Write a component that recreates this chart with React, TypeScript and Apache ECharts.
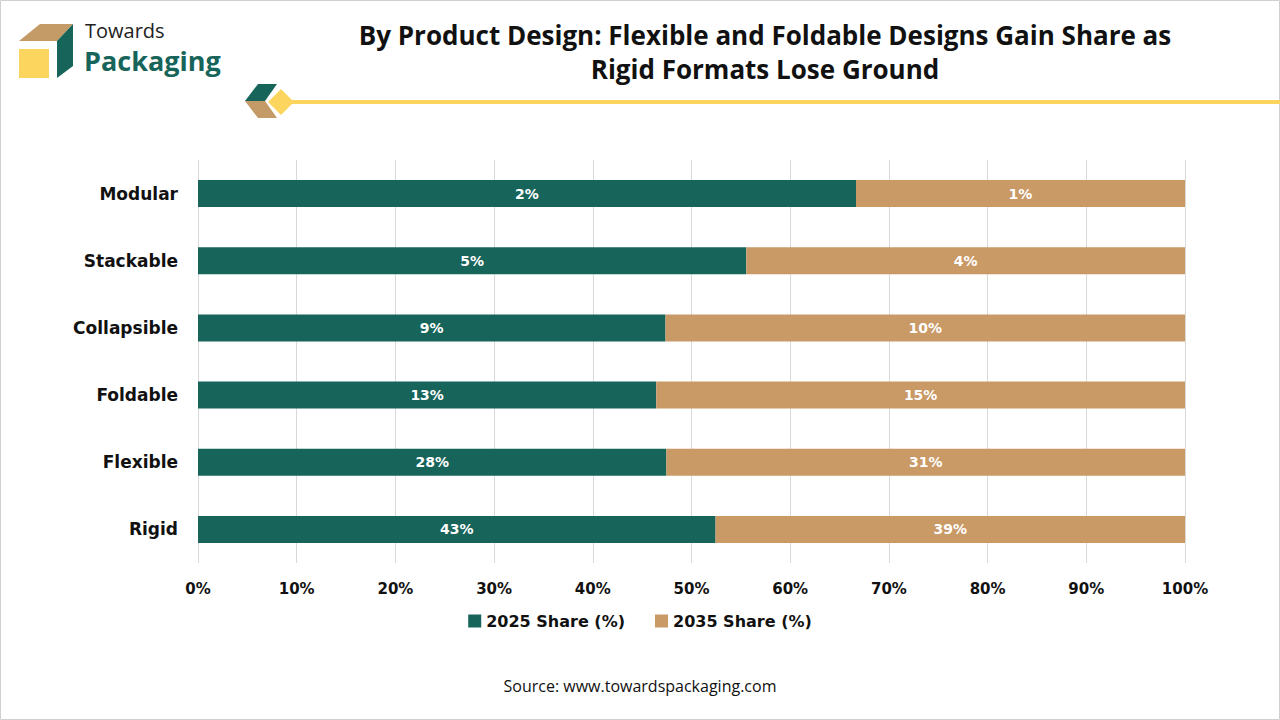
import React, { useEffect, useRef } from "react";
import * as echarts from "echarts";

const categories = ["Modular", "Stackable", "Collapsible", "Foldable", "Flexible", "Rigid"];
const share2025 = [2, 5, 9, 13, 28, 43];
const share2035 = [1, 4, 10, 15, 31, 39];
const xTicks = [0, 10, 20, 30, 40, 50, 60, 70, 80, 90, 100];

const GREEN = "#17645a";
const TAN = "#c99966";
const AXIS_FONT = "'DejaVu Sans', Verdana, sans-serif";

export default function App() {
  const ref = useRef<HTMLDivElement>(null);
  useEffect(() => {
    document.body.style.margin = "0";
    const chart = echarts.init(ref.current!, null, { renderer: "svg" });
    const totals = categories.map((_, i) => share2025[i] + share2035[i]);
    const d25 = share2025.map((v, i) => ({ value: (v / totals[i]) * 100, raw: v }));
    const d35 = share2035.map((v, i) => ({ value: (v / totals[i]) * 100, raw: v }));
    const labelCfg = {
      show: true,
      position: "inside",
      color: "#ffffff",
      fontWeight: "bold",
      fontSize: 14,
      fontFamily: AXIS_FONT,
      formatter: (p: any) => p.data.raw + "%",
    };
    chart.setOption({
      animation: false,
      backgroundColor: "#ffffff",
      title: {
        text: "By Product Design: Flexible and Foldable Designs Gain Share as\nRigid Formats Lose Ground",
        left: 760,
        top: 13,
        textAlign: "center",
        textStyle: {
          fontSize: 26,
          fontWeight: "bold",
          color: "#111",
          lineHeight: 34,
          fontFamily: "'Open Sans', 'Noto Sans', sans-serif",
        },
      },
      legend: {
        bottom: 86,
        left: "center",
        itemWidth: 13,
        itemHeight: 13,
        itemGap: 30,
        icon: "rect",
        textStyle: {
          fontSize: 16,
          fontWeight: "bold",
          color: "#111",
          fontFamily: AXIS_FONT,
        },
        data: ["2025 Share (%)", "2035 Share (%)"],
      },
      grid: { left: 198, right: 95, top: 160, bottom: 157, containLabel: false },
      xAxis: {
        type: "value",
        min: 0,
        max: 100,
        interval: 10,
        axisLine: { show: false },
        axisTick: { show: false },
        splitLine: { show: true, lineStyle: { color: "#d9d9d9", width: 1 } },
        axisLabel: {
          formatter: (v: number) => (xTicks.includes(v) ? v + "%" : ""),
          fontSize: 15,
          fontWeight: "bold",
          color: "#111",
          margin: 18,
          fontFamily: AXIS_FONT,
        },
      },
      yAxis: {
        type: "category",
        inverse: true,
        data: categories,
        axisLine: { show: false },
        axisTick: { show: false },
        axisLabel: {
          fontSize: 17,
          fontWeight: "bold",
          color: "#111",
          margin: 20,
          fontFamily: AXIS_FONT,
        },
      },
      series: [
        {
          name: "2025 Share (%)",
          type: "bar",
          stack: "s",
          barWidth: 27,
          itemStyle: { color: GREEN },
          label: labelCfg,
          data: d25,
        },
        {
          name: "2035 Share (%)",
          type: "bar",
          stack: "s",
          barWidth: 27,
          itemStyle: { color: TAN },
          label: labelCfg,
          data: d35,
        },
      ],
      graphic: [
        {
          type: "rect",
          shape: { x: 0.5, y: 0.5, width: 1279, height: 719 },
          style: { fill: "none", stroke: "#d0d0d0", lineWidth: 1 },
          silent: true,
        },
        // logo
        { type: "polygon", shape: { points: [[19, 41], [40, 24], [73, 24], [57, 41]] }, style: { fill: "#c49a66" } },
        { type: "polygon", shape: { points: [[57, 41], [73, 24], [73, 66], [57, 78]] }, style: { fill: GREEN } },
        { type: "rect", shape: { x: 19, y: 49, width: 30, height: 29 }, style: { fill: "#fcd55f" } },
        {
          type: "text",
          x: 85,
          y: 30,
          style: {
            text: "Towards",
            fontSize: 20,
            lineHeight: 20,
            fill: "#222",
            verticalAlign: "middle",
            fontFamily: "'Open Sans', 'Noto Sans', sans-serif",
          },
        },
        {
          type: "text",
          x: 84,
          y: 60,
          style: {
            text: "Packaging",
            fontSize: 27,
            lineHeight: 27,
            fontWeight: "bold",
            fill: GREEN,
            verticalAlign: "middle",
            fontFamily: "'Open Sans', 'Noto Sans', sans-serif",
          },
        },
        // divider line with icon
        { type: "rect", shape: { x: 288, y: 100, width: 992, height: 4 }, style: { fill: "#fcd55f" } },
        { type: "polygon", shape: { points: [[245, 101], [258, 84], [277, 84], [265, 101]] }, style: { fill: GREEN } },
        { type: "polygon", shape: { points: [[245, 101], [265, 101], [277, 118], [258, 118]] }, style: { fill: "#c49a66" } },
        { type: "polygon", shape: { points: [[281, 89], [294, 102], [281, 115], [268, 102]] }, style: { fill: "#fcd55f" } },
        {
          type: "text",
          x: 640,
          y: 686,
          style: {
            text: "Source: www.towardspackaging.com",
            fontSize: 16,
            fill: "#111",
            align: "center",
            verticalAlign: "middle",
            fontFamily: "'Open Sans', 'Noto Sans', sans-serif",
          },
        },
      ],
    });
    return () => chart.dispose();
  }, []);
  return <div ref={ref} style={{ width: 1280, height: 720, position: "absolute", left: 0, top: 0 }} />;
}
